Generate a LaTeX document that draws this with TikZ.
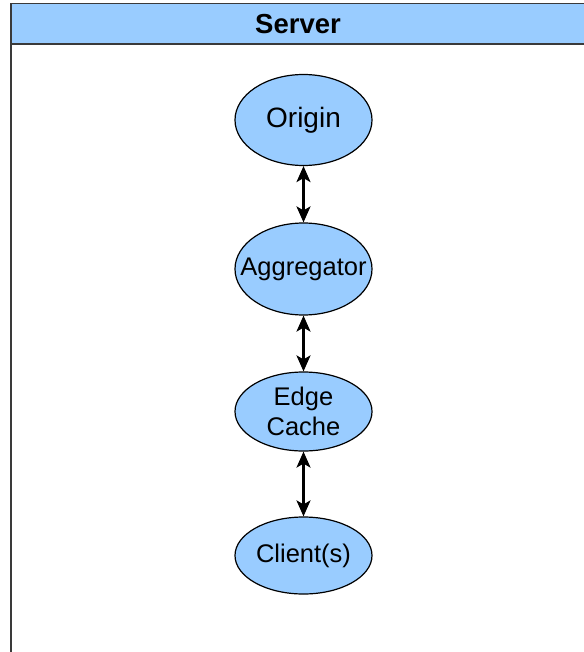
\documentclass[tikz,border=0pt]{standalone}
\usepackage{fontspec}
\setmainfont{Liberation Sans}
\usetikzlibrary{shapes.geometric,arrows.meta}
\definecolor{boxblue}{HTML}{99CCFF}
\definecolor{frame}{HTML}{3A3A3A}
\newcommand{\fixw}[1]{\makebox[0pt][c]{#1}}
\begin{document}
\begin{tikzpicture}[x=1bp,y=-1bp,
  comp/.style={ellipse,draw=black,line width=1.2bp,fill=boxblue,inner sep=0pt,
    minimum width=137bp,align=center},
  link/.style={line width=2.2bp,{Stealth[length=16bp,width=14bp,inset=4bp]}-{Stealth[length=16bp,width=14bp,inset=4bp]}},
  lbl/.style={font=\fontsize{25.5bp}{30bp}\selectfont}
]
\useasboundingbox (0,0) rectangle (584,652);
% container with header band
\fill[white] (11,3.5) rectangle (586,660);
\fill[boxblue] (11,3.5) rectangle (586,44);
\draw[frame,line width=1.6bp] (11,660) -- (11,3.5) -- (586,3.5) -- (586,660);
\draw[frame,line width=1.6bp] (11,44) -- (586,44);
\node[font=\bfseries\fontsize{27.5bp}{30bp}\selectfont] (title) at (298,24.5) {Server};
% components
\node[comp,minimum height=91bp,font=\fontsize{28bp}{32bp}\selectfont] (origin) at (303.5,120) {\fixw{\raisebox{-1.5bp}{Origin}}};
\node[comp,minimum height=92bp,lbl] (agg) at (303.5,269) {\fixw{Aggregator}};
\node[comp,minimum height=79bp,lbl] (edge) at (303.5,411.5) {\fixw{Edge}\\\fixw{Cache}};
\node[comp,minimum height=77bp,lbl] (client) at (303.5,555.5) {\fixw{Client(s)}};
% links
\draw[link] (origin.south) -- (agg.north);
\draw[link] (agg.south) -- (edge.north);
\draw[link] (edge.south) -- (client.north);
\end{tikzpicture}
\end{document}
